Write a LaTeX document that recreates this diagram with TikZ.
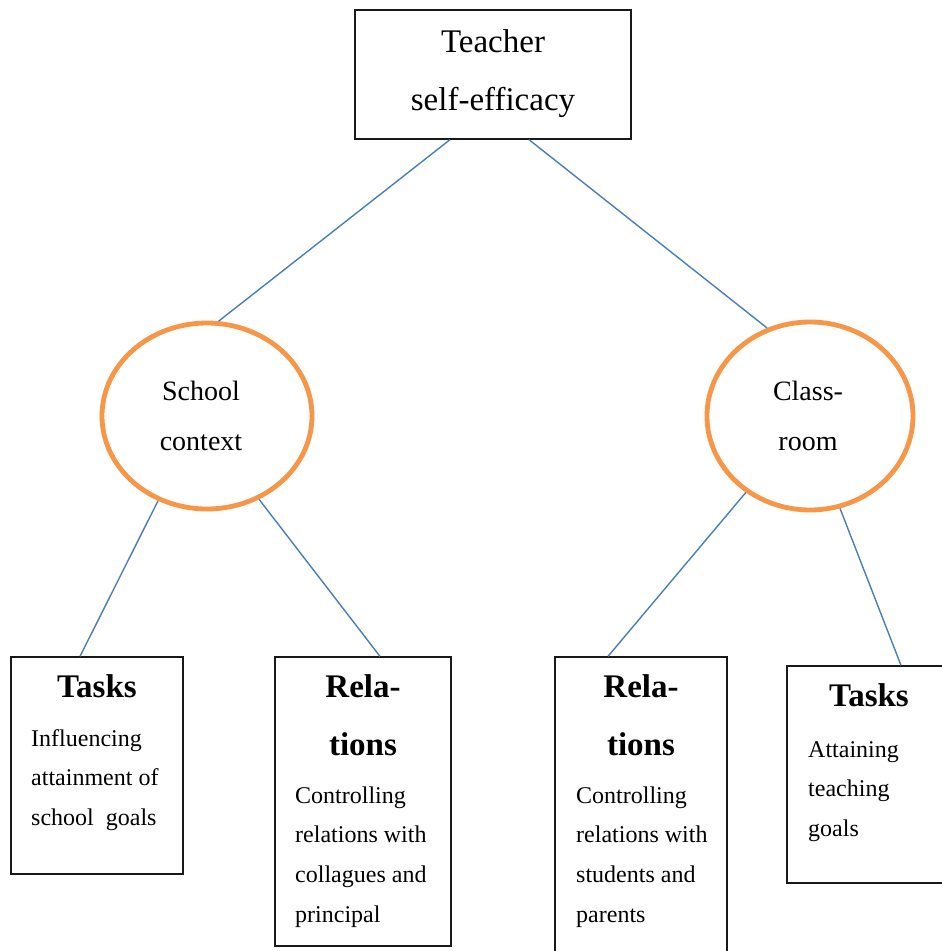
\documentclass[tikz,border=0pt]{standalone}
\usepackage{fontspec}
\setmainfont{Liberation Serif}
\usetikzlibrary{shapes.geometric,calc}
\definecolor{ringorange}{HTML}{F79646}
\definecolor{linkblue}{HTML}{4A7EBB}
\tikzset{
  box/.style={draw=black!90, line width=1.3pt, inner sep=0pt, fill=white},
  ring/.style={draw=ringorange, line width=4.8pt, ellipse, inner sep=0pt, fill=white},
  link/.style={draw=linkblue, line width=1.4pt},
  txt/.style={inner sep=0pt},
}
\newcommand{\headtxt}[1]{\parbox[t]{170pt}{\centering\bfseries\fontsize{33}{58}\selectfont #1}}
\newcommand{\bodytxt}[1]{\parbox[t]{170pt}{\raggedright\fontsize{24}{39.7}\selectfont #1}}
\begin{document}
\begin{tikzpicture}[x=1pt,y=-1pt]
\useasboundingbox (0,0) rectangle (942,951);
\clip (0,0) rectangle (942,951);
% boxes
\node[box, minimum width=276pt, minimum height=129pt] (top) at (493,74.5) {};
\node[box, minimum width=172pt, minimum height=217pt] (b1) at (97,765.5) {};
\node[box, minimum width=176pt, minimum height=289pt] (b2) at (363,801.5) {};
\node[box, minimum width=172pt, minimum height=303pt] (b3) at (641,808.5) {};
\node[box, minimum width=166pt, minimum height=217pt] (b4) at (870,774.5) {};
% ellipses
\node[ring, minimum width=210pt, minimum height=186pt] (sc) at (207,416) {};
\node[ring, minimum width=206pt, minimum height=188pt] (cr) at (810,416) {};
% connectors
\draw[link] ([xshift=-43pt]top.south) -- (sc.83);
\draw[link] ([xshift=36pt]top.south) -- (cr.116);
\draw[link] (sc.240) -- ([xshift=-17pt]b1.north);
\draw[link] (sc.302) -- ([xshift=17pt]b2.north);
\draw[link] (cr.230) -- ([xshift=-33pt]b3.north);
\draw[link] (cr.288) -- ([xshift=31pt]b4.north);
% texts
\node[txt, anchor=base] (topt) at (493,52) {\parbox[t]{260pt}{\centering\fontsize{33}{58}\selectfont Teacher\\self-efficacy}};
\node[txt, anchor=base] (sct) at (201,400) {\parbox[t]{150pt}{\centering\fontsize{28}{50}\selectfont School\\context}};
\node[txt, anchor=base] (crt) at (808,400) {\parbox[t]{150pt}{\centering\fontsize{28}{50}\selectfont Class-\\room}};
\node[txt, anchor=base] (h1) at (97,697) {\headtxt{Tasks}};
\node[txt, anchor=base west] (t1) at (31,746) {\bodytxt{Influencing\\attainment of\\school~~goals}};
\node[txt, anchor=base] (h2) at (363,697) {\headtxt{Rela-\\tions}};
\node[txt, anchor=base west] (t2) at (295,803) {\bodytxt{Controlling\\relations with\\collagues and\\principal}};
\node[txt, anchor=base] (h3) at (641,697) {\headtxt{Rela-\\tions}};
\node[txt, anchor=base west] (t3) at (576,803) {\bodytxt{Controlling\\relations with\\students and\\parents}};
\node[txt, anchor=base] (h4) at (869,706) {\headtxt{Tasks}};
\node[txt, anchor=base west] (t4) at (808,757) {\bodytxt{Attaining\\teaching\\goals}};
\end{tikzpicture}
\end{document}
